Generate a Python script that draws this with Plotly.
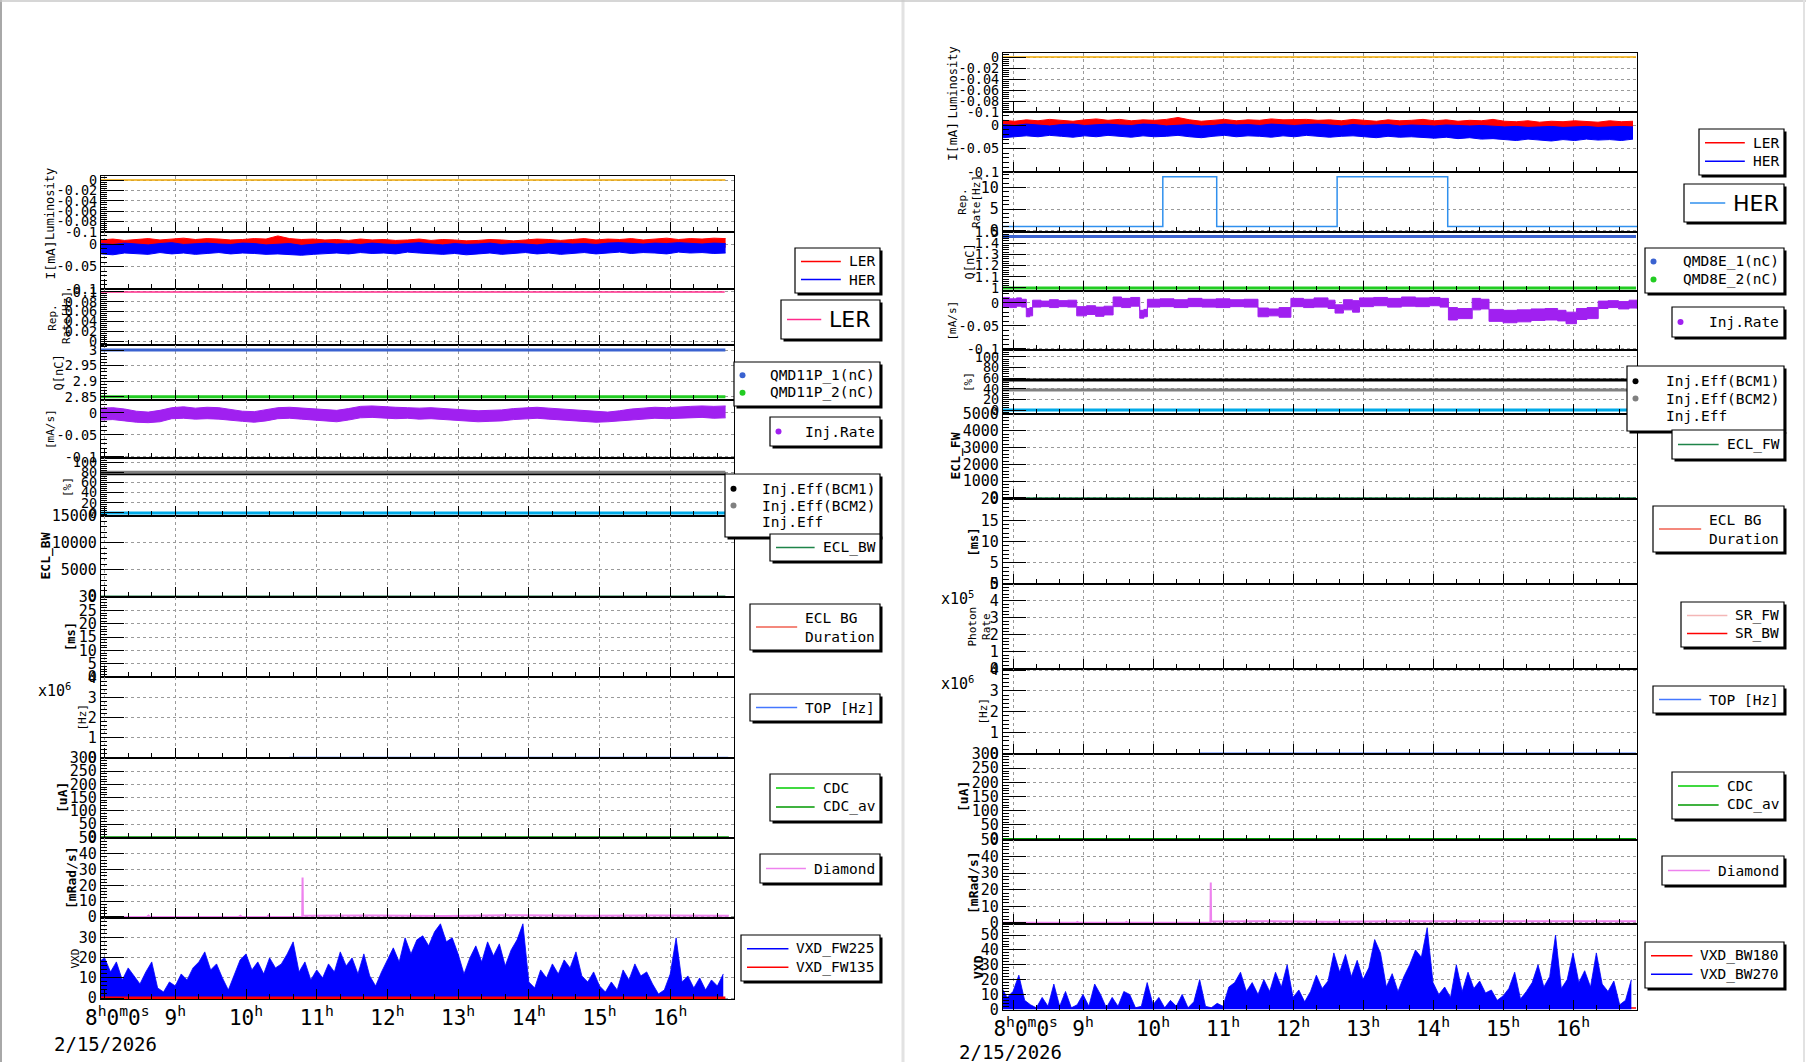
import numpy as np
import plotly.graph_objects as go

W, H = 1806, 1062
MONO = "DejaVu Sans Mono"
SANS = "DejaVu Sans"

# ---------------- data ----------------
date_label = "2/15/2026"
hour_ticks = [8, 9, 10, 11, 12, 13, 14, 15, 16]
hour_text = ["\u00a0\u00a08<sup>h</sup>0<sup>m</sup>0<sup>s</sup>", "9<sup>h</sup>", "10<sup>h</sup>",
             "11<sup>h</sup>", "12<sup>h</sup>", "13<sup>h</sup>", "14<sup>h</sup>", "15<sup>h</sup>",
             "16<sup>h</sup>"]

# time extents [h] of the flat series
span_L = [7.949, 16.78]
span_R = [7.857, 16.90]
top_span_L = [10.61, 16.82]
top_span_R = [10.66, 16.90]

# ---- LEFT (LER) ----
lum_L = [0, 0]
ler_hi_L = [0.009, 0.011, 0.008, 0.010, 0.012, 0.009, 0.011, 0.013, 0.010, 0.012,
            0.011, 0.009, 0.010, 0.012, 0.011, 0.018, 0.012, 0.010, 0.011, 0.009,
            0.010, 0.008, 0.011, 0.009, 0.010, 0.008, 0.009, 0.011, 0.008, 0.010,
            0.009, 0.007, 0.008, 0.010, 0.009, 0.007, 0.009, 0.011, 0.010, 0.008,
            0.010, 0.012, 0.009, 0.011, 0.010, 0.012, 0.009, 0.011, 0.013, 0.010,
            0.012, 0.011, 0.013, 0.012]
ler_lo_L = [-0.008, -0.006, -0.009, -0.007, -0.010, -0.008, -0.006, -0.009, -0.007, -0.008,
            -0.010, -0.007, -0.009, -0.006, -0.008, -0.011, -0.007, -0.009, -0.008, -0.006,
            -0.009, -0.007, -0.008, -0.010, -0.007, -0.009, -0.006, -0.008, -0.009, -0.007,
            -0.008, -0.010, -0.007, -0.009, -0.006, -0.008, -0.009, -0.007, -0.010, -0.008,
            -0.006, -0.009, -0.007, -0.008, -0.010, -0.007, -0.009, -0.006, -0.008, -0.007,
            -0.009, -0.006, -0.008, -0.007]
her_hi_L = [0.001, -0.001, 0.002, 0.000, -0.002, 0.001, 0.003, -0.001, 0.001, 0.002,
            0.000, -0.001, 0.002, 0.001, -0.002, 0.000, 0.001, -0.003, -0.001, 0.002,
            0.000, 0.001, -0.001, 0.002, 0.000, -0.001, 0.001, 0.003, 0.000, -0.002,
            0.001, -0.001, 0.000, 0.002, -0.001, 0.001, 0.000, -0.002, 0.001, 0.002,
            0.000, 0.001, -0.001, 0.002, 0.003, 0.001, 0.000, 0.002, 0.001, 0.003,
            0.002, 0.000, 0.002, 0.001]
her_lo_L = [-0.022, -0.024, -0.020, -0.021, -0.023, -0.019, -0.022, -0.020, -0.023, -0.021,
            -0.019, -0.022, -0.020, -0.021, -0.023, -0.022, -0.024, -0.025, -0.023, -0.021,
            -0.020, -0.022, -0.019, -0.021, -0.020, -0.022, -0.018, -0.020, -0.021, -0.023,
            -0.021, -0.024, -0.022, -0.020, -0.023, -0.021, -0.019, -0.022, -0.020, -0.023,
            -0.021, -0.019, -0.022, -0.020, -0.018, -0.021, -0.019, -0.020, -0.022, -0.018,
            -0.020, -0.019, -0.021, -0.020]
rep_L = [0.1, 0.1]
qmd1_L = [3.0, 3.0]
qmd2_L = [2.85, 2.85]
inj_hi_L = [0.011, 0.012, 0.009, 0.004, 0.002, 0.006, 0.012, 0.014, 0.011, 0.013,
            0.012, 0.008, 0.004, 0.003, 0.007, 0.012, 0.013, 0.011, 0.009, 0.007,
            0.006, 0.010, 0.015, 0.016, 0.014, 0.013, 0.012, 0.011, 0.012, 0.010,
            0.008, 0.006, 0.005, 0.006, 0.007, 0.010, 0.012, 0.013, 0.011, 0.009,
            0.007, 0.006, 0.003, 0.002, 0.005, 0.009, 0.011, 0.013, 0.012, 0.014,
            0.015, 0.016, 0.015, 0.016]
inj_lo_L = [-0.016, -0.015, -0.018, -0.021, -0.022, -0.020, -0.013, -0.012, -0.014, -0.013,
            -0.014, -0.017, -0.019, -0.021, -0.018, -0.013, -0.012, -0.014, -0.016, -0.019,
            -0.020, -0.016, -0.011, -0.010, -0.012, -0.013, -0.012, -0.014, -0.013, -0.015,
            -0.017, -0.019, -0.020, -0.019, -0.018, -0.015, -0.013, -0.012, -0.014, -0.016,
            -0.018, -0.019, -0.021, -0.020, -0.018, -0.015, -0.014, -0.012, -0.013, -0.012,
            -0.011, -0.010, -0.012, -0.011]
eff_bcm1_L = [77, 77]
eff_bcm2_L = [80, 80]
eff_L = [0, 0]
ecl_L = [0, 0]
eclbg_L = [0, 0]
top_L = [0, 0]
cdc_L = [0, 0]
diam_t_L = [7.949, 8.60, 8.62, 8.64, 9.90, 9.92, 9.94, 10.30, 10.32, 10.34, 10.795, 10.80, 10.805,
            11.8, 12.8, 13.8, 14.8, 15.8, 16.83]
diam_v_L = [0, 0, 0.8, 0, 0, 0.7, 0, 0, 0.9, 0, 0, 25, 0.7, 0.9, 0.6, 1.0, 0.7, 0.9, 0.8]
vxd_fw225 = [18,
             20, 13, 18, 9, 15, 11, 7, 13, 18, 5, 3, 8,
             6, 12, 9, 15, 18, 23, 14, 17, 10, 4, 12, 19,
             22, 14, 18, 12, 20, 15, 17, 22, 28, 13, 18, 9,
             14, 10, 17, 13, 23, 16, 20, 12, 22, 11, 6, 13,
             19, 25, 18, 30, 22, 29, 31, 26, 33, 37, 28, 30,
             22, 12, 20, 26, 18, 28, 21, 27, 16, 24, 29, 37,
             8, 5, 14, 10, 17, 12, 19, 15, 23, 11, 8, 13,
             6, 3, 8, 4, 14, 9, 17, 11, 13, 7, 2, 4,
             12, 30, 8, 11, 5, 10, 4, 9, 6, 12]
vxd_fw135 = [0, 0]

# ---- RIGHT (HER) ----
lum_R = [0, 0]
ler_hi_R = [0.010, 0.008, 0.011, 0.009, 0.012, 0.010, 0.008, 0.011, 0.013, 0.010,
            0.012, 0.009, 0.011, 0.010, 0.012, 0.016, 0.011, 0.008, 0.010, 0.012,
            0.009, 0.011, 0.010, 0.013, 0.011, 0.011, 0.012, 0.010, 0.011, 0.009,
            0.012, 0.010, 0.008, 0.011, 0.009, 0.010, 0.012, 0.009, 0.011, 0.008,
            0.010, 0.009, 0.012, 0.008, 0.007, 0.009, 0.006, 0.008, 0.007, 0.009,
            0.008, 0.006, 0.009, 0.007, 0.008]
ler_lo_R = [-0.011, -0.009, -0.012, -0.010, -0.013, -0.011, -0.009, -0.012, -0.010, -0.011,
            -0.013, -0.010, -0.012, -0.009, -0.011, -0.012, -0.010, -0.012, -0.011, -0.009,
            -0.012, -0.010, -0.011, -0.013, -0.010, -0.012, -0.009, -0.011, -0.012, -0.010,
            -0.011, -0.013, -0.010, -0.012, -0.009, -0.011, -0.012, -0.010, -0.013, -0.011,
            -0.012, -0.014, -0.012, -0.013, -0.015, -0.013, -0.014, -0.012, -0.015, -0.013,
            -0.014, -0.012, -0.015, -0.013, -0.014]
her_hi_R = [0.001, -0.001, 0.002, 0.000, -0.002, 0.001, 0.002, -0.001, 0.001, 0.002,
            0.000, -0.001, 0.002, 0.001, -0.002, 0.000, 0.001, -0.002, -0.001, 0.002,
            0.000, 0.001, -0.001, 0.002, 0.000, -0.001, 0.001, 0.002, 0.000, -0.002,
            0.001, -0.001, 0.000, 0.001, -0.002, 0.000, -0.001, -0.002, 0.000, -0.001,
            -0.002, -0.001, -0.003, -0.004, -0.003, -0.005, -0.004, -0.003, -0.005, -0.004,
            -0.003, -0.005, -0.004, -0.003, -0.004]
her_lo_R = [-0.027, -0.025, -0.023, -0.025, -0.022, -0.024, -0.026, -0.023, -0.025, -0.022,
            -0.024, -0.026, -0.023, -0.025, -0.024, -0.022, -0.025, -0.027, -0.024, -0.022,
            -0.025, -0.023, -0.024, -0.026, -0.023, -0.025, -0.022, -0.024, -0.026, -0.024,
            -0.023, -0.025, -0.027, -0.024, -0.026, -0.025, -0.027, -0.028, -0.026, -0.029,
            -0.027, -0.030, -0.029, -0.031, -0.033, -0.030, -0.032, -0.034, -0.031, -0.033,
            -0.030, -0.032, -0.031, -0.033, -0.030]
rep_t_R = [7.857, 10.14, 10.91, 12.63, 14.21, 16.914]
rep_v_R = [1.0, 12.5, 1.0, 12.5, 1.0, 1.0]
qmd1_R = [1.46, 1.46]
qmd2_R = [1.0, 1.0]
inj_t_R = [7.857, 7.95, 8.05, 8.12, 8.19, 8.24, 8.28, 8.4, 8.52, 8.65, 8.78,
           8.91, 9.05, 9.18, 9.3, 9.43, 9.55, 9.68, 9.81, 9.87,
           9.92, 10.1, 10.3, 10.5, 10.7, 10.9, 11.1, 11.3, 11.5, 11.65, 11.8,
           11.97, 12.15, 12.3, 12.5, 12.6, 12.72, 12.85,
           12.95, 13.15, 13.35, 13.55, 13.75, 13.95, 14.1, 14.22, 14.35, 14.56, 14.68,
           14.8, 15.0, 15.2, 15.4, 15.6, 15.78, 15.9, 16.05, 16.2,
           16.36, 16.5, 16.65, 16.8, 16.914]
inj_hi_R = [0.012, 0.009, 0.011, 0.008, -0.012, -0.010, 0.006, 0.004, 0.007, 0.005, 0.006,
            -0.008, -0.006, -0.009, -0.007, 0.013, 0.010, 0.012, -0.016, -0.014,
            0.008, 0.009, 0.007, 0.010, 0.008, 0.009, 0.007, 0.008, -0.011, -0.013, -0.010,
            0.010, 0.008, 0.011, 0.006, -0.004, 0.007, 0.005,
            0.011, 0.012, 0.010, 0.013, 0.011, 0.012, 0.010, -0.010, -0.012, 0.010, 0.008,
            -0.014, -0.016, -0.015, -0.013, -0.012, -0.016, -0.020, -0.012, -0.010,
            0.004, 0.005, 0.003, 0.006, 0.005]
inj_lo_R = [-0.008, -0.010, -0.007, -0.009, -0.030, -0.028, -0.009, -0.008, -0.010, -0.008, -0.009,
            -0.028, -0.025, -0.029, -0.026, -0.008, -0.010, -0.007, -0.033, -0.030,
            -0.009, -0.008, -0.010, -0.008, -0.009, -0.010, -0.008, -0.009, -0.030, -0.028, -0.031,
            -0.008, -0.010, -0.009, -0.012, -0.022, -0.015, -0.020,
            -0.008, -0.006, -0.009, -0.007, -0.008, -0.006, -0.009, -0.037, -0.034, -0.015, -0.013,
            -0.040, -0.043, -0.041, -0.038, -0.037, -0.039, -0.045, -0.036, -0.034,
            -0.012, -0.010, -0.013, -0.011, -0.012]
eff_bcm1_R = [56.6, 56.6]
eff_bcm2_R = [37.7, 37.7]
eff_R = [0, 0]
ecl_R = [0, 0]
eclbg_R = [0, 0]
photon_R = [0, 0]
top_R = [0, 0]
cdc_R = [0, 0]
diam_t_R = [7.857, 8.90, 8.92, 8.94, 9.60, 9.62, 9.64, 10.82, 10.825, 10.83,
            11.5, 12.5, 13.5, 14.5, 15.5, 16.90]
diam_v_R = [0, 0, 0.6, 0, 0, 0.5, 0, 0, 24.4, 0.8, 1.0, 0.7, 1.0, 0.8, 1.0, 0.9]
vxd_bw270 = [15, 8,
             12, 23, 6, 3, 1, 8, 2, 17, 2, 12, 1, 3,
             10, 2, 17, 10, 1, 8, 2, 12, 10, 1, 2, 18,
             3, 8, 1, 6, 2, 10, 1, 5, 20, 2, 1, 4,
             2, 15, 18, 25, 12, 18, 10, 20, 12, 25, 15, 30,
             8, 13, 5, 12, 23, 14, 19, 38, 25, 37, 22, 33,
             20, 28, 47, 38, 15, 24, 12, 22, 30, 40, 35, 55,
             18, 10, 15, 8, 30, 12, 25, 14, 19, 11, 13, 6,
             9, 14, 25, 7, 12, 18, 30, 15, 22, 50, 14, 20,
             38, 18, 26, 15, 38, 17, 12, 19, 3, 6, 20]
vxd_bw180 = [0.8, 0.8]

# ---------------- figure helpers ----------------
fig = go.Figure()
layout_axes = {}
annotations = []
shapes = []
counter = [0]

C_GRID = "#9a9a9a"


def ids(n):
    return ("x" if n == 1 else f"x{n}", "y" if n == 1 else f"y{n}")


def add_panel(px_x, xr, top, bot, yr, tv, tt, mdt, fs, title, tx, tsize, last=False):
    counter[0] += 1
    n = counter[0]
    xid, yid = ids(n)
    xkey = "xaxis" if n == 1 else f"xaxis{n}"
    ykey = "yaxis" if n == 1 else f"yaxis{n}"
    layout_axes[xkey] = dict(
        domain=[px_x[0] / W, px_x[1] / W], range=xr, anchor=yid,
        showline=True, mirror=True, linecolor="black", linewidth=1.2,
        ticks="inside", ticklen=10, tickwidth=1.3, tickcolor="black",
        tickmode="array", tickvals=hour_ticks, ticktext=hour_text,
        showticklabels=last, tickfont=dict(family=MONO, size=21, color="black"),
        showgrid=True, gridcolor=C_GRID, griddash="dot", gridwidth=1,
        minor=dict(tickmode="linear", tick0=8, dtick=1 / 3, ticks="inside", ticklen=5,
                   tickwidth=1.2, tickcolor="black", showgrid=False),
        zeroline=False, fixedrange=True)
    layout_axes[ykey] = dict(
        domain=[1 - bot / H, 1 - top / H], range=yr, anchor=xid,
        showline=True, mirror=True, linecolor="black", linewidth=1.2,
        ticks="inside", ticklen=23, tickwidth=1.3, tickcolor="black",
        tickmode="array", tickvals=tv, ticktext=tt,
        tickfont=dict(family=MONO, size=fs, color="black"),
        showgrid=True, gridcolor=C_GRID, griddash="dot", gridwidth=1,
        minor=dict(tickmode="linear", tick0=tv[0], dtick=mdt, ticks="inside", ticklen=6,
                   tickwidth=1, tickcolor="black", showgrid=False),
        zeroline=False, fixedrange=True)
    annotations.append(dict(x=tx / W, y=1 - (top + bot) / 2 / H, xref="paper", yref="paper",
                            text=title, textangle=-90, showarrow=False,
                            font=dict(family=MONO, size=tsize, color="black"),
                            xanchor="center", yanchor="middle", align="center"))
    return n


def line(n, x, y, color, width=1.5, shape="linear"):
    xid, yid = ids(n)
    fig.add_trace(go.Scatter(x=x, y=y, mode="lines", xaxis=xid, yaxis=yid,
                             line=dict(color=color, width=width, shape=shape),
                             hoverinfo="skip"))


def band(n, x, lo, hi, color, shape="linear"):
    xid, yid = ids(n)
    fig.add_trace(go.Scatter(x=x, y=lo, mode="lines", xaxis=xid, yaxis=yid,
                             line=dict(color=color, width=1, shape=shape), hoverinfo="skip"))
    fig.add_trace(go.Scatter(x=x, y=hi, mode="lines", xaxis=xid, yaxis=yid,
                             line=dict(color=color, width=1, shape=shape), fill="tonexty",
                             fillcolor=color, hoverinfo="skip"))


def area(n, x, y, color):
    xid, yid = ids(n)
    fig.add_trace(go.Scatter(x=x, y=y, mode="lines", xaxis=xid, yaxis=yid,
                             line=dict(color=color, width=0.8), fill="tozeroy",
                             fillcolor=color, hoverinfo="skip"))


def legend_box(x0, y0, x1, y1, entries, fs=14.5, big=False):
    shapes.append(dict(type="rect", xref="paper", yref="paper", x0=(x0 + 2.5) / W, x1=(x1 + 2.5) / W,
                       y0=1 - (y1 + 2.5) / H, y1=1 - (y0 + 2.5) / H, fillcolor="black",
                       line=dict(width=0), layer="above"))
    shapes.append(dict(type="rect", xref="paper", yref="paper", x0=x0 / W, x1=x1 / W,
                       y0=1 - y1 / H, y1=1 - y0 / H, fillcolor="white",
                       line=dict(color="black", width=1.2), layer="above"))
    n = len(entries)
    h = y1 - y0
    if big:
        fam = SANS
        maxw = 2.08 * fs
    else:
        fam = MONO
        maxlen = max(max(len(s) for s in e[0].split("<br>")) for e in entries)
        maxw = maxlen * 0.602 * fs
    tx = x1 - 7 - maxw
    for i, (label, color, kind) in enumerate(entries):
        yr = y0 + h * (0.1 + 0.8 * (i + 0.5) / n) if n > 1 else y0 + h / 2
        if kind == "line":
            shapes.append(dict(type="line", xref="paper", yref="paper", x0=(x0 + 6) / W,
                               x1=(tx - 6) / W, y0=1 - yr / H, y1=1 - yr / H,
                               line=dict(color=color, width=1.5), layer="above"))
        elif kind == "dot":
            shapes.append(dict(type="circle", xref="paper", yref="paper", x0=(x0 + 5.5) / W,
                               x1=(x0 + 11.5) / W, y0=1 - (yr + 3) / H, y1=1 - (yr - 3) / H,
                               fillcolor=color, line=dict(color=color, width=0), layer="above"))
        annotations.append(dict(x=tx / W, y=1 - yr / H, xref="paper", yref="paper", text=label,
                                showarrow=False, xanchor="left", yanchor="middle", align="left",
                                font=dict(family=fam, size=fs, color="black")))


# ---------------- colours ----------------
C_LUM = "#f2a900"
C_LER = "#ff0000"
C_HER = "#0000ff"
C_REP_L = "#ff2a8a"
C_REP_R = "#3090ee"
C_Q1 = "#3a62d0"
C_Q2 = "#22cc22"
C_INJ = "#a020f0"
C_EFF2 = "#808080"
C_EFF = "#00aae8"
C_ECL = "#1e8449"
C_BG = "#f06050"
C_TOP = "#4477ff"
C_CDC = "#00cc00"
C_CDCAV = "#009900"
C_DIA = "#ee82ee"
C_SR = "#f5a020"

# ---------------- LEFT panels ----------------
LX = (101, 734)
XR_L = [7.949, 16.902]
tg_L = 7.95 + np.arange(len(ler_hi_L)) / 6.0

n = add_panel(LX, XR_L, 176, 232, [-0.1, 0.0077], [0, -0.02, -0.04, -0.06, -0.08, -0.1],
              ["0", "-0.02", "-0.04", "-0.06", "-0.08", "-0.1"], 0.004, 13.5, "Luminosity", 50, 12)
line(n, span_L, lum_L, C_LUM, 1.5)

n = add_panel(LX, XR_L, 232, 289, [-0.1, 0.0267], [0, -0.05, -0.1], ["0", "-0.05", "-0.1"], 0.01, 13.5,
              "I[mA]", 50, 13)
band(n, tg_L, ler_lo_L, ler_hi_L, C_LER)
band(n, tg_L, her_lo_L, her_hi_L, C_HER)

n = add_panel(LX, XR_L, 289, 345, [-0.008, 0.106], [0, 0.02, 0.04, 0.06, 0.08, 0.1],
              ["0", "0.02", "0.04", "0.06", "0.08", "0.1"], 0.004, 13.5, "Rep.<br>Rate[Hz]", 59, 11)
line(n, [span_L[0], 16.77], rep_L, C_REP_L, 1.5)

n = add_panel(LX, XR_L, 345, 400, [2.84, 3.016], [2.85, 2.9, 2.95, 3.0], ["2.85", "2.9", "2.95", "3"],
              0.01, 13.5, "Q[nC]", 58, 12)
line(n, span_L, qmd1_L, C_Q1, 3)
line(n, span_L, qmd2_L, C_Q2, 3)

n = add_panel(LX, XR_L, 400, 458, [-0.1023, 0.0295], [0, -0.05, -0.1], ["0", "-0.05", "-0.1"], 0.01, 13.5,
              "[mA/s]", 50, 11)
band(n, tg_L, inj_lo_L, inj_hi_L, C_INJ)

n = add_panel(LX, XR_L, 458, 516, [-6, 108], [0, 20, 40, 60, 80, 100], ["0", "20", "40", "60", "80", "100"],
              4, 13.5, "[%]", 67, 11)
line(n, span_L, eff_bcm1_L, "black", 3)
line(n, span_L, eff_bcm2_L, C_EFF2, 3)
line(n, span_L, eff_L, C_EFF, 3)

n = add_panel(LX, XR_L, 516, 597, [-150, 15000], [0, 5000, 10000, 15000], ["0", "5000", "10000", "15000"],
              1000, 15, "<b>ECL_BW</b>", 45, 13)
line(n, span_L, ecl_L, C_ECL, 1.5)

n = add_panel(LX, XR_L, 597, 677, [0, 30], [0, 5, 10, 15, 20, 25, 30], ["0", "5", "10", "15", "20", "25", "30"],
              1, 15, "<b>[ms]</b>", 71, 12)
line(n, span_L, eclbg_L, C_BG, 1)

n = add_panel(LX, XR_L, 677, 758, [-0.03e6, 4.05e6], [0, 1e6, 2e6, 3e6, 4e6], ["0", "1", "2", "3", "4"],
              0.2e6, 15, "[Hz]", 82, 11)
line(n, top_span_L, top_L, C_TOP, 1.5)

n = add_panel(LX, XR_L, 758, 838, [-3, 300], [0, 50, 100, 150, 200, 250, 300],
              ["0", "50", "100", "150", "200", "250", "300"], 10, 15, "<b>[uA]</b>", 62, 13)
line(n, [span_L[0], 16.83], cdc_L, C_CDCAV, 2)

n = add_panel(LX, XR_L, 838, 918, [-0.7, 50], [0, 10, 20, 30, 40, 50], ["0", "10", "20", "30", "40", "50"],
              2, 15, "<b>[mRad/s]</b>", 71, 13)
line(n, diam_t_L, diam_v_L, C_DIA, 2)

n = add_panel(LX, XR_L, 918, 999, [-0.5, 39.9], [0, 10, 20, 30], ["0", "10", "20", "30"], 2, 15,
              "VXD", 75, 11, last=True)
t_vxd_L = 7.9167 + np.arange(len(vxd_fw225)) / 12.0
area(n, t_vxd_L, vxd_fw225, C_HER)
line(n, span_L, vxd_fw135, C_LER, 3)

# ---------------- RIGHT panels ----------------
RX = (1003, 1637)
XR_R = [7.857, 16.914]
tg_R = 7.857 + np.arange(len(ler_hi_R)) / 6.0

n = add_panel(RX, XR_R, 53, 112, [-0.1, 0.0073], [0, -0.02, -0.04, -0.06, -0.08, -0.1],
              ["0", "-0.02", "-0.04", "-0.06", "-0.08", "-0.1"], 0.004, 13.5, "Luminosity", 953, 12)
line(n, span_R, lum_R, C_LUM, 1.5)

n = add_panel(RX, XR_R, 112, 172, [-0.1, 0.0277], [0, -0.05, -0.1], ["0", "-0.05", "-0.1"], 0.01, 13.5,
              "I[mA]", 952, 13)
band(n, tg_R, ler_lo_R, ler_hi_R, C_LER)
band(n, tg_R, her_lo_R, her_hi_R, C_HER)

n = add_panel(RX, XR_R, 172, 232, [-0.3, 13.6], [0, 5, 10], ["0", "5", "10"], 1, 15,
              "Rep.<br>Rate[Hz]", 969, 11)
line(n, rep_t_R, rep_v_R, C_REP_R, 1.5, shape="hv")

n = add_panel(RX, XR_R, 232, 291, [0.973, 1.5], [1.0, 1.1, 1.2, 1.3, 1.4, 1.5],
              ["1", "1.1", "1.2", "1.3", "1.4", "1.5"], 0.02, 13.5, "Q[nC]", 970, 12)
line(n, span_R, qmd1_R, C_Q1, 3)
line(n, span_R, qmd2_R, C_Q2, 3)

n = add_panel(RX, XR_R, 291, 350, [-0.1022, 0.026], [0, -0.05, -0.1], ["0", "-0.05", "-0.1"], 0.01, 13.5,
              "[mA/s]", 952, 11)
band(n, inj_t_R, inj_lo_R, inj_hi_R, C_INJ, shape="hv")

n = add_panel(RX, XR_R, 350, 414, [-7.5, 113], [0, 20, 40, 60, 80, 100], ["0", "20", "40", "60", "80", "100"],
              4, 13.5, "[%]", 968, 11)
line(n, span_R, eff_bcm1_R, "black", 3)
line(n, span_R, eff_bcm2_R, C_EFF2, 3)
line(n, span_R, eff_R, C_EFF, 3)

n = add_panel(RX, XR_R, 414, 499, [-60, 5000], [0, 1000, 2000, 3000, 4000, 5000],
              ["0", "1000", "2000", "3000", "4000", "5000"], 200, 15, "<b>ECL_FW</b>", 955, 13)
line(n, span_R, ecl_R, C_ECL, 1.5)

n = add_panel(RX, XR_R, 499, 584, [0, 20], [0, 5, 10, 15, 20], ["0", "5", "10", "15", "20"], 1, 15,
              "<b>[ms]</b>", 973, 12)
line(n, span_R, eclbg_R, C_BG, 1)

n = add_panel(RX, XR_R, 584, 669, [-0.02e5, 5.0e5], [0, 1e5, 2e5, 3e5, 4e5, 5e5],
              ["0", "1", "2", "3", "4", "5"], 0.2e5, 15, "Photon<br>Rate", 979, 11)
line(n, span_R, photon_R, C_SR, 1.5)

n = add_panel(RX, XR_R, 669, 754, [-0.03e6, 4.05e6], [0, 1e6, 2e6, 3e6, 4e6], ["0", "1", "2", "3", "4"],
              0.2e6, 15, "[Hz]", 983, 11)
line(n, top_span_R, top_R, C_TOP, 1.5)

n = add_panel(RX, XR_R, 754, 840, [-3, 300], [0, 50, 100, 150, 200, 250, 300],
              ["0", "50", "100", "150", "200", "250", "300"], 10, 15, "<b>[uA]</b>", 963, 13)
line(n, span_R, cdc_R, C_CDCAV, 2.5)

n = add_panel(RX, XR_R, 840, 924, [-0.7, 50], [0, 10, 20, 30, 40, 50], ["0", "10", "20", "30", "40", "50"],
              2, 15, "<b>[mRad/s]</b>", 973, 13)
line(n, diam_t_R, diam_v_R, C_DIA, 2)

n = add_panel(RX, XR_R, 924, 1010, [-0.5, 57.5], [0, 10, 20, 30, 40, 50], ["0", "10", "20", "30", "40", "50"],
              2, 15, "<b>VXD</b>", 978, 13, last=True)
line(n, span_R, vxd_bw180, C_LER, 1.5)
t_vxd_R = 7.8333 + np.arange(len(vxd_bw270)) / 12.0
area(n, t_vxd_R, vxd_bw270, C_HER)

# ---------------- legends ----------------
legend_box(795, 248, 880, 293, [("LER", C_LER, "line"), ("HER", C_HER, "line")])
legend_box(781, 300, 880, 339, [("LER", C_REP_L, "line")], fs=22, big=True)
legend_box(734, 362, 880, 406, [("QMD11P_1(nC)", C_Q1, "dot"), ("QMD11P_2(nC)", C_Q2, "dot")])
legend_box(770, 417, 880, 446, [("Inj.Rate", C_INJ, "dot")])
legend_box(725, 474, 880, 537, [("Inj.Eff(BCM1)", "black", "dot"), ("Inj.Eff(BCM2)", C_EFF2, "dot"),
                                ("Inj.Eff", C_EFF, "none")])
legend_box(770, 534, 880, 561, [("ECL_BW", C_ECL, "line")])
legend_box(750, 604, 880, 650, [("ECL BG<br>Duration", C_BG, "line")])
legend_box(750, 694, 880, 721, [("TOP [Hz]", C_TOP, "line")])
legend_box(770, 774, 880, 821, [("CDC", C_CDC, "line"), ("CDC_av", C_CDCAV, "line")])
legend_box(760, 854, 880, 883, [("Diamond", C_DIA, "line")])
legend_box(741, 935, 880, 981, [("VXD_FW225", C_HER, "line"), ("VXD_FW135", C_LER, "line")])

legend_box(1699, 129, 1784, 175, [("LER", C_LER, "line"), ("HER", C_HER, "line")])
legend_box(1684, 184, 1784, 222, [("HER", C_REP_R, "line")], fs=22, big=True)
legend_box(1645, 248, 1784, 293, [("QMD8E_1(nC)", C_Q1, "dot"), ("QMD8E_2(nC)", C_Q2, "dot")])
legend_box(1672, 307, 1784, 337, [("Inj.Rate", C_INJ, "dot")])
legend_box(1627, 366, 1784, 431, [("Inj.Eff(BCM1)", "black", "dot"), ("Inj.Eff(BCM2)", C_EFF2, "dot"),
                                  ("Inj.Eff", C_EFF, "none")])
legend_box(1672, 430, 1784, 459, [("ECL_FW", C_ECL, "line")])
legend_box(1653, 506, 1784, 552, [("ECL BG<br>Duration", C_BG, "line")])
legend_box(1681, 602, 1784, 647, [("SR_FW", "#f4b6b6", "line"), ("SR_BW", C_LER, "line")])
legend_box(1653, 686, 1784, 713, [("TOP [Hz]", C_TOP, "line")])
legend_box(1672, 772, 1784, 819, [("CDC", C_CDC, "line"), ("CDC_av", C_CDCAV, "line")])
legend_box(1662, 856, 1784, 885, [("Diamond", C_DIA, "line")])
legend_box(1645, 942, 1784, 988, [("VXD_BW180", C_LER, "line"), ("VXD_BW270", C_HER, "line")])

# ---------------- extra texts ----------------
for (xx, yy, txt) in [(54, 690, "x10<sup>6</sup>"), (957, 598, "x10<sup>5</sup>"), (957, 683, "x10<sup>6</sup>")]:
    annotations.append(dict(x=xx / W, y=1 - yy / H, xref="paper", yref="paper", text=txt, showarrow=False,
                            xanchor="center", yanchor="middle", font=dict(family=MONO, size=15, color="black")))
for (xx, yy) in [(105, 1044), (1011, 1052)]:
    annotations.append(dict(x=xx / W, y=1 - yy / H, xref="paper", yref="paper", text=date_label,
                            showarrow=False, xanchor="center", yanchor="middle",
                            font=dict(family=MONO, size=19, color="black")))

# canvas borders
for (a0, b0, a1, b1, col, wd) in [(1, 0, 1, 1062, "#a8a8a8", 2), (903, 0, 903, 1062, "#e2e2e2", 3),
                                  (0, 1, 1806, 1, "#c8c8c8", 1.5), (1804, 0, 1804, 1062, "#e2e2e2", 2)]:
    shapes.append(dict(type="line", xref="paper", yref="paper", x0=a0 / W, x1=a1 / W, y0=1 - b0 / H,
                       y1=1 - b1 / H, line=dict(color=col, width=wd), layer="above"))

fig.update_layout(template="none", width=W, height=H, margin=dict(l=0, r=0, t=0, b=0),
                  paper_bgcolor="white", plot_bgcolor="white", showlegend=False,
                  annotations=annotations, shapes=shapes, **layout_axes)

fig.write_html("out.html", config={"displayModeBar": False},
               post_script="document.body.style.margin='0px';")
